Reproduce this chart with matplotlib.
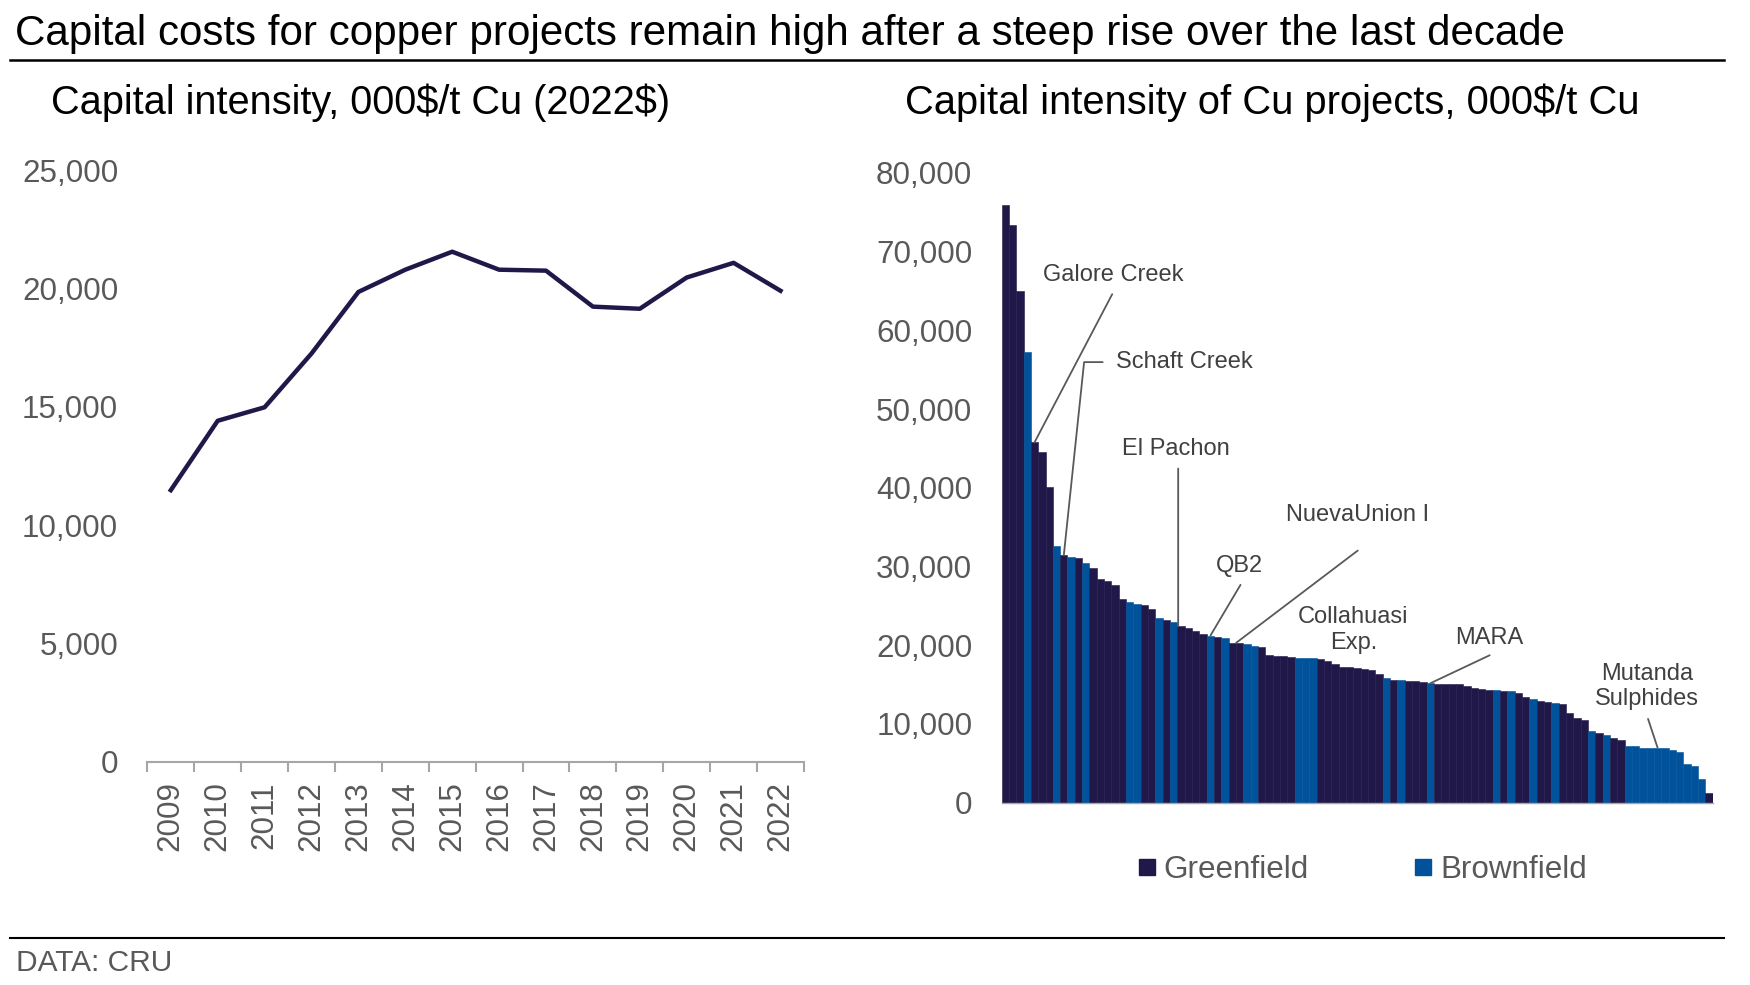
import matplotlib
matplotlib.use("Agg")
import numpy as np
import matplotlib.pyplot as plt
from matplotlib.lines import Line2D
from matplotlib.ticker import StrMethodFormatter

plt.rcParams['font.family'] = ['Liberation Sans', 'DejaVu Sans']

# left panel: average capital intensity per year
years = ['2009', '2010', '2011', '2012', '2013', '2014', '2015',
         '2016', '2017', '2018', '2019', '2020', '2021', '2022']
intensity = [11480, 14410, 14980, 17250, 19850, 20790, 21550,
             20790, 20750, 19230, 19140, 20460, 21080, 19900]

# right panel: individual projects, sorted high to low
project_values = [
    75870, 73360, 64980, 57240, 45770, 44580, 40160, 32600, 31470, 31240,
    31080, 30460, 29790, 28470, 28130, 27630, 25850, 25550, 25210, 25170,
    24570, 23520, 23180, 23010, 22410, 22200, 21860, 21480, 21230, 21100,
    20970, 20340, 20300, 20210, 19880, 19830, 18730, 18690, 18640, 18560,
    18440, 18430, 18420, 18300, 18050, 17670, 17240, 17200, 17160, 16990,
    16860, 16400, 15890, 15630, 15620, 15510, 15400, 15370, 15170, 15080,
    15050, 15040, 15030, 14790, 14620, 14450, 14370, 14360, 14240, 14230,
    13980, 13390, 13130, 12970, 12840, 12630, 12500, 11360, 10720, 10550,
    9070, 8900, 8640, 8260, 7920, 7260, 7250, 7000, 6990, 6990,
    6980, 6650, 6400, 4960, 4700, 2970, 1190,
]
# G = greenfield, B = brownfield
project_types = list(
    "GGGBGGGBGB" "GBGGGGGBBG" "GBGBGGGGBG" "BGGBBGGGGG" "BBBGGGGGGG"
    "GGBGBGGGBG" "GGGGGGGBGB" "GGBGGBGGGG" "BGBGGBBBBB" "BBBBBBG"
)

# callouts: label, bar index, text position, line start, connection style
callouts = [
    ("Galore Creek", 4, (14.7, 67000), (14.6, 64600), None),
    ("Schaft Creek", 8, (15.1, 55970), (13.3, 55970), "angle,angleA=0,angleB=84,rad=0"),
    ("El Pachon", 24, (23.3, 44870), (23.6, 42450), None),
    ("QB2", 28, (32.0, 30110), (32.1, 27670), None),
    ("NuevaUnion I", 32, (48.1, 36490), (48.1, 32030), None),
    ("MARA", 58, (66.1, 20950), (66.1, 18730), None),
    ("Mutanda\nSulphides", 89, (87.6, 14790), (87.7, 10640), None),
]

dark = '#21184a'
blue = '#00529b'
grey_txt = '#595959'
axis_grey = '#a6a6a6'

fig = plt.figure(figsize=(17.5, 9.85), dpi=100)

# ---- left: line chart
ax1 = fig.add_axes([0.0842, 0.2264, 0.3752, 0.6010])
ax1.plot(range(len(years)), intensity, color=dark, lw=3.2, solid_joinstyle='round')
ax1.set_xlim(-0.5, len(years) - 0.5)
ax1.set_ylim(0, 25000)
ax1.set_yticks(np.arange(0, 25001, 5000))
ax1.yaxis.set_major_formatter(StrMethodFormatter('{x:,.0f}'))
ax1.set_xticks(np.arange(-0.5, len(years), 1))
ax1.set_xticklabels([])
ax1.set_xticks(range(len(years)), minor=True)
ax1.set_xticklabels(years, minor=True, rotation=90)
ax1.tick_params(axis='x', which='major', length=7.5, width=1.5, color=axis_grey)
ax1.tick_params(axis='x', which='minor', length=0, pad=14, labelsize=22.6, labelcolor=grey_txt)
ax1.tick_params(axis='y', length=0, pad=21, labelsize=22.6, labelcolor=grey_txt)
for s in ['top', 'right', 'left']:
    ax1.spines[s].set_visible(False)
ax1.spines['bottom'].set_color(axis_grey)
ax1.spines['bottom'].set_linewidth(1.5)

# ---- right: project bars
ax2 = fig.add_axes([0.5723, 0.1851, 0.4063, 0.6393])
colors = [dark if t == 'G' else blue for t in project_types]
x = np.arange(len(project_values))
ax2.bar(x, project_values, width=1.0, color=colors, edgecolor=colors, linewidth=0.4)
ax2.set_xlim(-0.5, len(project_values) - 0.5)
ax2.set_ylim(0, 80000)
ax2.set_yticks(np.arange(0, 80001, 10000))
ax2.yaxis.set_major_formatter(StrMethodFormatter('{x:,.0f}'))
ax2.set_xticks([])
ax2.tick_params(axis='y', length=0, pad=21, labelsize=22.6, labelcolor=grey_txt)
for s in ['top', 'right', 'left']:
    ax2.spines[s].set_visible(False)
ax2.spines['bottom'].set_color(axis_grey)
ax2.spines['bottom'].set_linewidth(1.0)

for label, idx, txt_pos, line_start, conn in callouts:
    ax2.text(txt_pos[0], txt_pos[1], label, ha='center', va='center',
             fontsize=17, color='#404040', linespacing=1.15)
    if label == "Schaft Creek":
        ax2.texts[-1].set_ha('left')
    end_x = idx - 0.4 if label == "El Pachon" else idx
    if label == "NuevaUnion I":
        end_x = idx - 0.5
    ax2.annotate('', xy=(end_x, project_values[idx]), xytext=line_start,
                 arrowprops=dict(arrowstyle='-', color='#595959', lw=1.3,
                                 shrinkA=0, shrinkB=0,
                                 connectionstyle=conn or 'arc3'))

ax2.text(47.5, 21950, "Collahuasi\nExp.", ha='center', va='center',
         fontsize=17, color='#404040', linespacing=1.2)

handles = [Line2D([], [], marker='s', linestyle='none', markersize=11, color=dark),
           Line2D([], [], marker='s', linestyle='none', markersize=11, color=blue)]
fig.legend(handles, ['Greenfield', 'Brownfield'], loc='center left',
           bbox_to_anchor=(0.6509, 0.1170), ncol=2, frameon=False,
           fontsize=22.6, labelcolor=grey_txt, handlelength=0.5,
           handletextpad=0.28, columnspacing=3.4, borderpad=0, borderaxespad=0)

# ---- titles and rules
fig.text(0.0085, 0.9650, "Capital costs for copper projects remain high after a steep rise over the last decade",
         fontsize=30.3, va='center', ha='left', color='black')
fig.add_artist(Line2D([0.0057, 0.985], [0.9391, 0.9391], transform=fig.transFigure,
                      color='black', lw=1.8))
fig.text(0.0291, 0.8957, "Capital intensity, 000\\$/t Cu (2022\\$)", fontsize=28.6,
         va='center', ha='left', color='black')
fig.text(0.5171, 0.8957, "Capital intensity of Cu projects, 000\\$/t Cu", fontsize=28.7,
         va='center', ha='left', color='black')
fig.add_artist(Line2D([0.0057, 0.985], [0.0480, 0.0480], transform=fig.transFigure,
                      color='black', lw=1.5))
fig.text(0.0091, 0.0220, "DATA: CRU", fontsize=21.5, va='center', ha='left', color=grey_txt)

fig.savefig('out.png', dpi=100)
